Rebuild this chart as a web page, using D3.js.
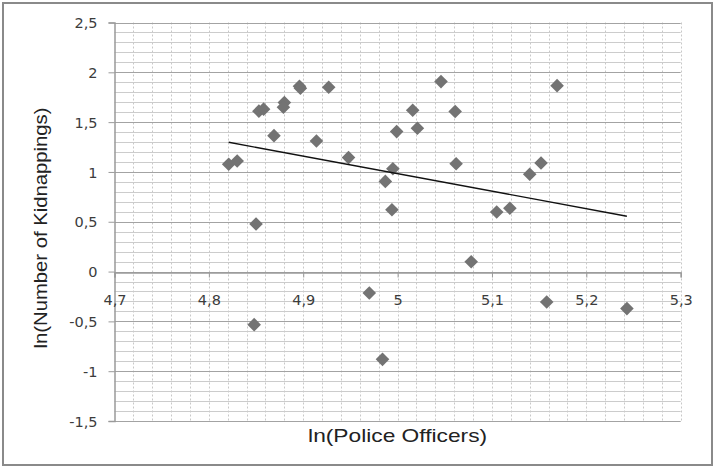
<!DOCTYPE html>
<html>
<head>
<meta charset="utf-8">
<script src="https://cdn.jsdelivr.net/npm/d3@7/dist/d3.min.js"></script>
<style>
  html, body { margin: 0; padding: 0; background: #fff; }
  svg { display: block; }
</style>
</head>
<body>
<svg id="chart" width="714" height="468"></svg>
<script>
// ---- Data ----
const policeOfficersLn = [
  4.821, 4.830, 4.853, 4.858, 4.850, 4.848, 4.869, 4.880, 4.879, 4.896, 4.897,
  4.914, 4.927, 4.948, 4.970, 4.984, 4.987, 4.994, 4.995, 4.999, 5.016, 5.021,
  5.046, 5.061, 5.062, 5.078, 5.105, 5.119, 5.140, 5.152, 5.158, 5.169, 5.243
];
const kidnappingsLn = [
  1.077, 1.110, 1.610, 1.630, 0.478, -0.533, 1.364, 1.696, 1.650, 1.860, 1.840,
  1.311, 1.850, 1.144, -0.215, -0.881, 0.905, 0.620, 1.032, 1.405, 1.619, 1.439,
  1.907, 1.606, 1.082, 0.099, 0.598, 0.635, 0.977, 1.090, -0.305, 1.866, -0.372
];
const xTicks = [4.7, 4.8, 4.9, 5.0, 5.1, 5.2, 5.3];
const yTicks = [2.5, 2, 1.5, 1, 0.5, 0, -0.5, -1, -1.5];
const xTitle = "ln(Police Officers)";
const yTitle = "ln(Number of Kidnappings)";

// ---- Layout ----
const svg = d3.select("#chart");
const plot = { left: 114.5, right: 680.7, top: 22.5, bottom: 421 };

const x = d3.scaleLinear().domain([4.7, 5.3]).range([plot.left, plot.right]);
const y = d3.scaleLinear().domain([-1.5, 2.5]).range([plot.bottom, plot.top]);

const fmt = v => (Math.round(v * 10) / 10).toString().replace(".", ",");

// outer frame
svg.append("rect")
  .attr("x", 3).attr("y", 3).attr("width", 709).attr("height", 462)
  .attr("fill", "#fff").attr("stroke", "#8a8a8a").attr("stroke-width", 2);

const g = svg.append("g");

// vertical dotted minor gridlines every 0.02
const vMinor = d3.range(0, 31).map(i => 4.7 + i * 0.02).filter(v => v > 4.701);
g.append("g").selectAll("line").data(vMinor).join("line")
  .attr("x1", d => Math.round(x(d)) + 0.5).attr("x2", d => Math.round(x(d)) + 0.5)
  .attr("y1", plot.top).attr("y2", plot.bottom)
  .attr("stroke", "#c8c8c8").attr("stroke-width", 1).attr("stroke-dasharray", "2,2");

// horizontal minor gridlines every 0.1
const hMinor = d3.range(0, 41).map(i => -1.5 + i * 0.1).filter(v => Math.abs(v * 2 - Math.round(v * 2)) > 1e-6);
g.append("g").selectAll("line").data(hMinor).join("line")
  .attr("x1", plot.left).attr("x2", plot.right)
  .attr("y1", d => Math.round(y(d)) + 0.5).attr("y2", d => Math.round(y(d)) + 0.5)
  .attr("stroke", "#cccccc").attr("stroke-width", 1);

// horizontal major gridlines every 0.5
g.append("g").selectAll("line").data(yTicks).join("line")
  .attr("x1", plot.left).attr("x2", plot.right)
  .attr("y1", d => Math.round(y(d)) + 0.5).attr("y2", d => Math.round(y(d)) + 0.5)
  .attr("stroke", "#a3a3a3").attr("stroke-width", 1);

// Y axis
const yAxis = d3.axisLeft(y).tickValues(yTicks).tickSize(6).tickPadding(11).tickFormat(fmt);
const yAx = svg.append("g").attr("transform", `translate(${plot.left},0)`).call(yAxis);
yAx.select(".domain").attr("stroke", "#9a9a9a").attr("stroke-width", 1.5);
yAx.selectAll(".tick line").attr("stroke", "#9a9a9a");
yAx.selectAll(".tick text")
  .attr("font-family", "DejaVu Sans, sans-serif").attr("font-size", 14.5)
  .attr("fill", "#3c3c3c").attr("dy", "0.36em");

// X axis at y = 0
const xAxis = d3.axisBottom(x).tickValues(xTicks).tickSize(5).tickPadding(17).tickFormat(fmt);
const xAx = svg.append("g").attr("transform", `translate(0,${Math.round(y(0)) + 0.5})`).call(xAxis);
xAx.select(".domain").attr("stroke", "#9a9a9a").attr("stroke-width", 1.5);
xAx.selectAll(".tick line").attr("stroke", "#9a9a9a");
xAx.selectAll(".tick text")
  .attr("font-family", "DejaVu Sans, sans-serif").attr("font-size", 14.5)
  .attr("fill", "#3c3c3c");

// Points
const pts = policeOfficersLn.map((v, i) => ({ x: v, y: kidnappingsLn[i] }));
const r = 6.8;
svg.append("g").selectAll("path").data(pts).join("path")
  .attr("d", d => {
    const cx = x(d.x), cy = y(d.y);
    return `M${cx},${cy - r}L${cx + r},${cy}L${cx},${cy + r}L${cx - r},${cy}Z`;
  })
  .attr("fill", "#737373");

// Linear trendline (least squares from the data)
const mx = d3.mean(pts, d => d.x), my = d3.mean(pts, d => d.y);
const sxy = d3.sum(pts, d => (d.x - mx) * (d.y - my));
const sxx = d3.sum(pts, d => (d.x - mx) * (d.x - mx));
const slope = sxy / sxx, intercept = my - slope * mx;
const [xmin, xmax] = d3.extent(pts, d => d.x);
svg.append("line")
  .attr("x1", x(xmin)).attr("y1", y(intercept + slope * xmin))
  .attr("x2", x(xmax)).attr("y2", y(intercept + slope * xmax))
  .attr("stroke", "#111").attr("stroke-width", 1.3);

// Axis titles
svg.append("text")
  .attr("x", (plot.left + plot.right) / 2).attr("y", 442)
  .attr("text-anchor", "middle")
  .attr("font-family", "Liberation Sans, Arial, sans-serif").attr("font-size", 19)
  .attr("fill", "#222")
  .attr("textLength", 179).attr("lengthAdjust", "spacingAndGlyphs")
  .text(xTitle);

svg.append("text")
  .attr("transform", "translate(47,228) rotate(-90)")
  .attr("text-anchor", "middle")
  .attr("font-family", "Liberation Sans, Arial, sans-serif").attr("font-size", 19)
  .attr("fill", "#222")
  .attr("textLength", 241).attr("lengthAdjust", "spacingAndGlyphs")
  .text(yTitle);
</script>
</body>
</html>
